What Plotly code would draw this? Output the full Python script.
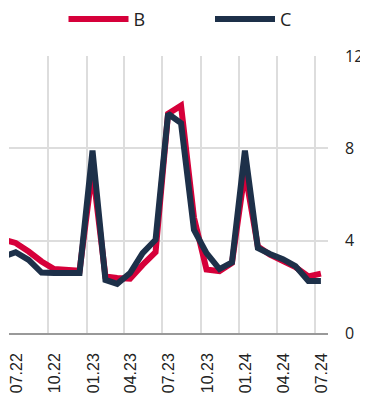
import plotly.graph_objects as go

months = ["2022-06-15", "2022-07-15", "2022-08-15", "2022-09-15", "2022-10-15", "2022-11-15",
          "2022-12-15", "2023-01-15", "2023-02-15", "2023-03-15", "2023-04-15", "2023-05-15",
          "2023-06-15", "2023-07-15", "2023-08-15", "2023-09-15", "2023-10-15", "2023-11-15",
          "2023-12-15", "2024-01-15", "2024-02-15", "2024-03-15", "2024-04-15", "2024-05-15",
          "2024-06-15", "2024-07-15"]
series_b = [4.05, 3.9, 3.53, 3.1, 2.77, 2.72, 2.7, 7.1, 2.45, 2.38, 2.35, 2.95, 3.5,
            9.5, 9.85, 5.0, 2.75, 2.68, 3.03, 7.0, 3.75, 3.39, 3.1, 2.86, 2.45, 2.57]
series_c = [3.3, 3.5, 3.17, 2.62, 2.6, 2.6, 2.6, 7.9, 2.3, 2.13, 2.6, 3.46, 4.04,
            9.5, 9.09, 4.47, 3.46, 2.77, 3.06, 7.9, 3.68, 3.42, 3.2, 2.9, 2.25, 2.25]
y_ticks = [0, 4, 8, 12]

RED = "#d6003a"
NAVY = "#1d3049"

fig = go.Figure()
fig.add_trace(go.Scatter(x=months, y=series_b, name="B", mode="lines",
                         line=dict(color=RED, width=6), legend="legend"))
fig.add_trace(go.Scatter(x=months, y=series_c, name="C", mode="lines",
                         line=dict(color=NAVY, width=6), legend="legend2"))

leg_common = dict(orientation="h", xanchor="left", xref="container",
                  yref="container", yanchor="middle", y=1 - 11.2 / 403,
                  font=dict(family="Open Sans", size=18, color="#222"),
                  itemwidth=60, bgcolor="rgba(0,0,0,0)")

fig.update_layout(
    width=368, height=403,
    margin=dict(l=0.6, r=48.3, t=48, b=77.7, autoexpand=False),
    paper_bgcolor="white", plot_bgcolor="white",
    showlegend=True,
    legend=dict(x=55.5 / 368, **leg_common),
    legend2=dict(x=202 / 368, **leg_common),
    xaxis=dict(type="date", range=["2022-06-29", "2024-08-01"],
               tickmode="linear", tick0="2022-07-01", dtick="M3",
               tickformat="%m.%y", tickangle=-90,
               tickfont=dict(family="Liberation Sans", size=16, color="#222"),
               showgrid=True, gridcolor="#dddddd", gridwidth=1.5,
               showline=True, linecolor="#999999", linewidth=1.5,
               ticks="", zeroline=False, ticklabelshift=7, ticklabelstandoff=12,
               ticklabeloverflow="allow"),
    yaxis=dict(side="right", range=[0, 12], tickvals=y_ticks,
               tickfont=dict(family="Open Sans", size=16, color="#222"),
               showgrid=True, gridcolor="#dddddd", gridwidth=1.5,
               zeroline=False, showline=False, ticks="", ticklabelstandoff=16,
               ticklabeloverflow="allow"),
)

fig.write_html("out.html")
